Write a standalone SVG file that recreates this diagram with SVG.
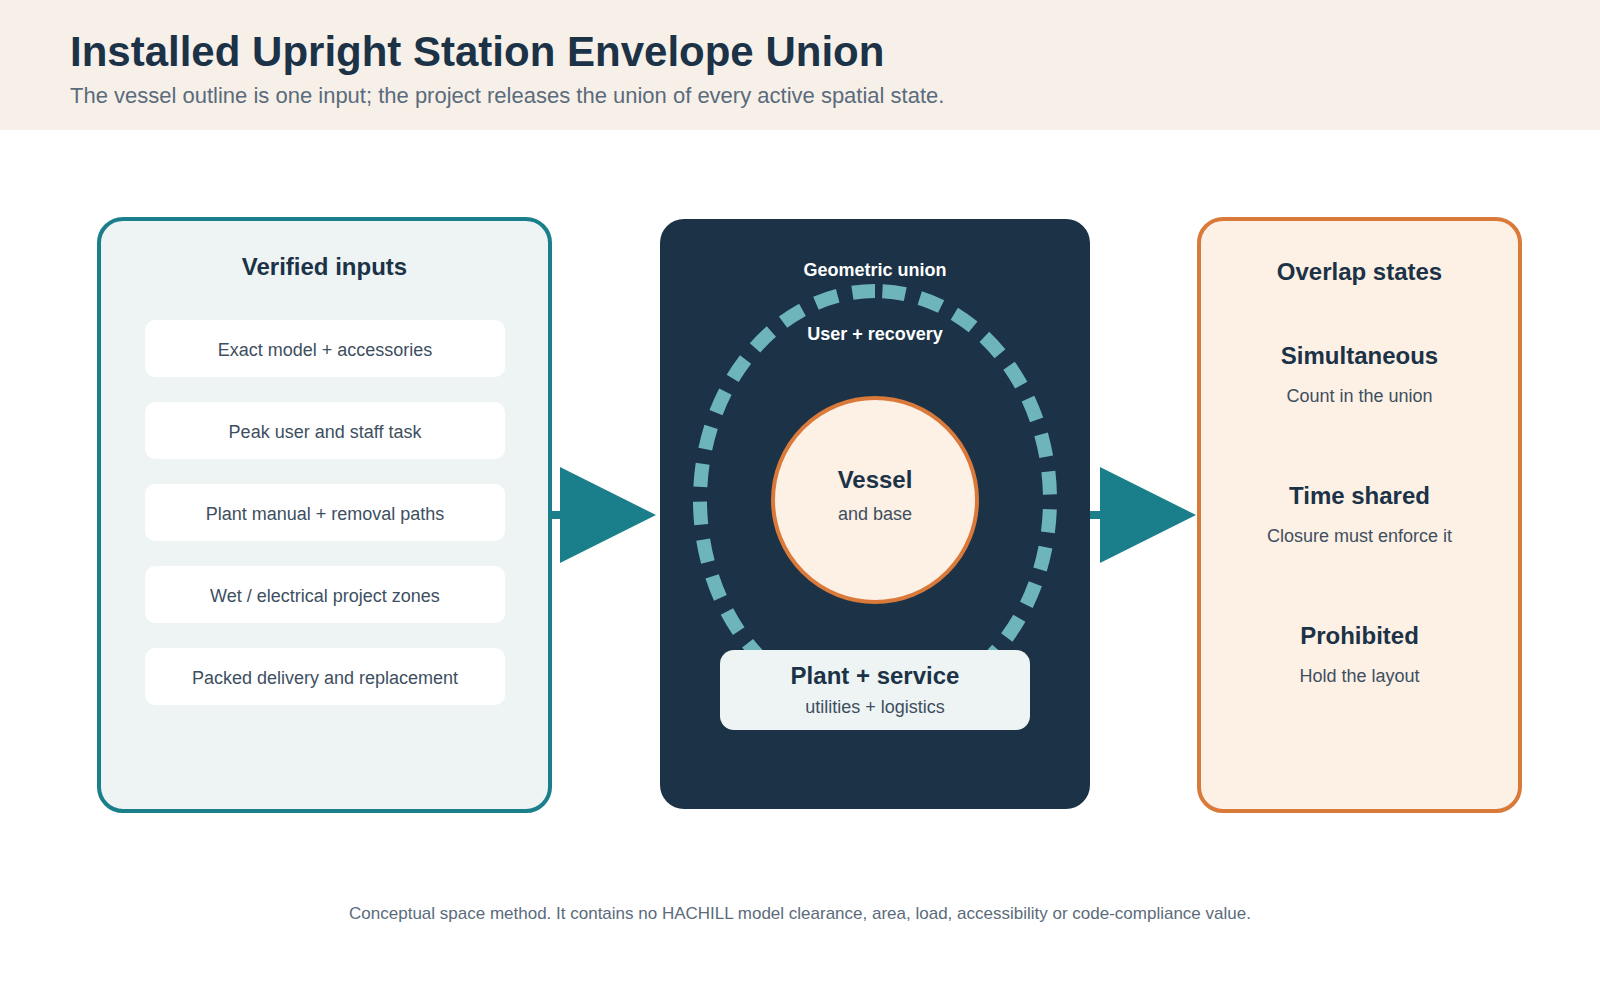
<svg xmlns="http://www.w3.org/2000/svg" width="1600" height="1000" viewBox="0 0 1600 1000">
<defs>
<style>
text{font-family:"Liberation Sans",Arial,sans-serif;text-anchor:middle}
.title{font-size:42px;font-weight:bold;fill:#1b3247;text-anchor:start}
.sub{font-size:22px;fill:#5b6b7b;text-anchor:start}
.h{font-size:24px;font-weight:bold;fill:#1b3247}
.item{font-size:18px;fill:#3d4f5f}
.itembox{fill:#ffffff}
.wl{font-size:18px;font-weight:bold;fill:#ffffff}
.foot{font-size:17px;fill:#5b6b7b}
.conn{stroke:#1a7f8a;stroke-width:8;fill:none}
</style>
<marker id="tri" viewBox="0 0 10 10" refX="0" refY="5" markerWidth="12" markerHeight="12" markerUnits="strokeWidth" orient="auto">
<path d="M0,0 L10,5 L0,10 z" fill="#1a7f8a"/>
</marker>
</defs>
<rect x="0" y="0" width="1600" height="1000" fill="#ffffff"/>
<g id="header">
<rect x="0" y="0" width="1600" height="130" fill="#f6f0e9"/>
<text class="title" x="70" y="66">Installed Upright Station Envelope Union</text>
<text class="sub" x="70" y="103">The vessel outline is one input; the project releases the union of every active spatial state.</text>
</g>
<g id="inputs">
<rect x="99" y="219" width="451" height="592" rx="24" fill="#eef4f4" stroke="#1a7f8a" stroke-width="4"/>
<text class="h" x="324.5" y="275">Verified inputs</text>
<rect class="itembox" x="145" y="320" width="360" height="57" rx="10"/>
<text class="item" x="325" y="356">Exact model + accessories</text>
<rect class="itembox" x="145" y="402" width="360" height="57" rx="10"/>
<text class="item" x="325" y="438">Peak user and staff task</text>
<rect class="itembox" x="145" y="484" width="360" height="57" rx="10"/>
<text class="item" x="325" y="520">Plant manual + removal paths</text>
<rect class="itembox" x="145" y="566" width="360" height="57" rx="10"/>
<text class="item" x="325" y="602">Wet / electrical project zones</text>
<rect class="itembox" x="145" y="648" width="360" height="57" rx="10"/>
<text class="item" x="325" y="684">Packed delivery and replacement</text>
</g>
<g id="union">
<rect x="660" y="219" width="430" height="590" rx="24" fill="#1b3247"/>
<text class="wl" x="875" y="276">Geometric union</text>
<path d="M875,291 A175,209 0 1,1 875,709 A175,209 0 1,1 875,291" fill="none" stroke="#6db5bb" stroke-width="14" stroke-dasharray="23 15" stroke-dashoffset="30.5"/>
<text class="wl" x="875" y="340">User + recovery</text>
<g id="vessel">
<circle cx="875" cy="500" r="102" fill="#fdf0e4" stroke="#d97a3a" stroke-width="4"/>
<text class="h" x="875" y="488">Vessel</text>
<text class="item" x="875" y="520">and base</text>
</g>
<g id="plant">
<rect x="720" y="650" width="310" height="80" rx="14" fill="#eef4f4"/>
<text x="875" y="684" style="font-size:24px;font-weight:bold;fill:#1b3247">Plant + service</text>
<text class="item" x="875" y="713">utilities + logistics</text>
</g>
</g>
<g id="states">
<rect x="1199" y="219" width="321" height="592" rx="24" fill="#fdf0e4" stroke="#d97a3a" stroke-width="4"/>
<text class="h" x="1359.5" y="280">Overlap states</text>
<text class="h" x="1359.5" y="364">Simultaneous</text>
<text class="item" x="1359.5" y="402">Count in the union</text>
<text class="h" x="1359.5" y="504">Time shared</text>
<text class="item" x="1359.5" y="542">Closure must enforce it</text>
<text class="h" x="1359.5" y="644">Prohibited</text>
<text class="item" x="1359.5" y="682">Hold the layout</text>
</g>
<g id="connectors">
<line class="conn" x1="552" y1="515" x2="560" y2="515" marker-end="url(#tri)"/>
<line class="conn" x1="1090" y1="515" x2="1100" y2="515" marker-end="url(#tri)"/>
</g>
<text class="foot" x="800" y="919">Conceptual space method. It contains no HACHILL model clearance, area, load, accessibility or code-compliance value.</text>
</svg>
